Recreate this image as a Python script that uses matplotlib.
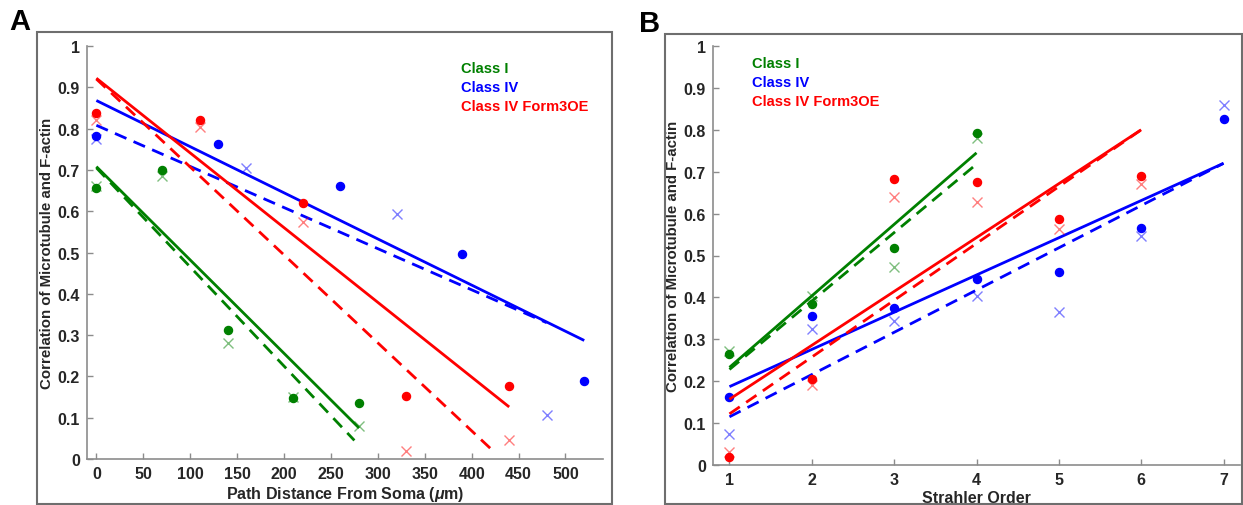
import matplotlib.pyplot as plt
from matplotlib.patches import Rectangle

plt.rcParams['font.family'] = ['Liberation Sans', 'DejaVu Sans']
plt.rcParams['font.weight'] = 'bold'
plt.rcParams['mathtext.fontset'] = 'custom'
plt.rcParams['mathtext.it'] = 'Liberation Sans:italic:bold'
plt.rcParams['mathtext.rm'] = 'Liberation Sans:bold'

GREEN, BLUE, RED = '#008000', '#0000ff', '#ff0000'
names = ['Class I', 'Class IV', 'Class IV Form3OE']
colors = [GREEN, BLUE, RED]

# Panel A: path distance from soma
a_dot_x = [[0, 70, 140, 210, 280],
           [0, 130, 260, 390, 520],
           [0, 110, 220, 330, 440]]
a_dot_y = [[0.655, 0.700, 0.312, 0.147, 0.135],
           [0.782, 0.762, 0.660, 0.497, 0.188],
           [0.838, 0.820, 0.620, 0.153, 0.176]]
a_x_x = [[0, 70, 140, 210, 280],
         [0, 160, 320, 480],
         [0, 110, 220, 330, 440]]
a_x_y = [[0.660, 0.685, 0.280, 0.150, 0.080],
         [0.775, 0.705, 0.593, 0.107],
         [0.820, 0.805, 0.573, 0.020, 0.045]]
# fit lines (start/end)
a_solid_x = [[0, 280], [0, 520], [0, 440]]
a_solid_y = [[0.708, 0.075], [0.868, 0.287], [0.922, 0.126]]
a_dash_x = [[0, 275], [0, 480], [0, 425]]
a_dash_y = [[0.705, 0.045], [0.808, 0.330], [0.920, 0.015]]

# Panel B: Strahler order
b_x = [1, 2, 3, 4, 5, 6, 7]
b_dot_x = [[1, 2, 3, 4], [1, 2, 3, 4, 5, 6, 7], [1, 2, 3, 4, 5, 6]]
b_dot_y = [[0.265, 0.384, 0.517, 0.792],
           [0.162, 0.355, 0.374, 0.445, 0.460, 0.565, 0.825],
           [0.020, 0.205, 0.683, 0.676, 0.587, 0.690]]
b_x_y = [[0.273, 0.403, 0.472, 0.780],
         [0.075, 0.324, 0.343, 0.403, 0.366, 0.546, 0.859],
         [0.030, 0.190, 0.640, 0.627, 0.563, 0.670]]
b_solid_x = [[1, 4], [1, 7], [1, 6]]
b_solid_y = [[0.233, 0.745], [0.187, 0.720], [0.157, 0.800]]
b_dash_x = [[1, 4], [1, 7], [1, 6]]
b_dash_y = [[0.228, 0.718], [0.115, 0.720], [0.122, 0.800]]

fig = plt.figure(figsize=(12.43, 5.06), dpi=100)
W, H = 1243, 506

# panel frames
for x0, y0, x1, y1 in [(37, 33, 612, 505), (665, 35, 1242, 505)]:
    fig.patches.append(Rectangle((x0 / W, 1 - y1 / H), (x1 - x0) / W, (y1 - y0) / H,
                                 transform=fig.transFigure, fill=False,
                                 edgecolor='#6e6e6e', linewidth=1.5))
fig.text(20 / W, 1 - 22 / H, 'A', fontsize=21, fontweight='bold', ha='center', va='center')
fig.text(650 / W, 1 - 24 / H, 'B', fontsize=21, fontweight='bold', ha='center', va='center')

axA = fig.add_axes([87 / W, 1 - 460 / H, (603 - 87) / W, (460 - 47) / H])
axB = fig.add_axes([713 / W, 1 - 466 / H, (1240 - 713) / W, (466 - 47) / H])


def style(ax):
    for s in ['top', 'right']:
        ax.spines[s].set_visible(False)
    for s in ['left', 'bottom']:
        ax.spines[s].set_color('#8c8c8c')
        ax.spines[s].set_linewidth(1.2)
    ax.tick_params(direction='in', length=4, width=1, color='#8c8c8c',
                   labelsize=11.5, labelcolor='#262626', pad=5)
    ax.set_ylim(0, 1)
    ax.set_yticks([0, 0.1, 0.2, 0.3, 0.4, 0.5, 0.6, 0.7, 0.8, 0.9, 1])
    ax.set_yticklabels(['0', '0.1', '0.2', '0.3', '0.4', '0.5', '0.6', '0.7', '0.8', '0.9', '1'])
    ax.set_ylabel('Correlation of Microtubule and F-actin', fontsize=10.8,
                  fontweight='bold', color='#262626', labelpad=3)


lw = 2.0
dash = (4.5, 2.8)

for i, c in enumerate(colors):
    axA.plot(a_solid_x[i], a_solid_y[i], color=c, lw=lw, solid_capstyle='butt')
    axA.plot(a_dash_x[i], a_dash_y[i], color=c, lw=lw, dashes=dash)
    axA.plot(a_x_x[i], a_x_y[i], 'x', color=c, alpha=0.5, ms=7, mew=1.0)
    axA.plot(a_dot_x[i], a_dot_y[i], 'o', color=c, ms=5.8)
    axA.text(389, 0.947 - 0.046 * i, names[i], color=c, fontsize=10.5,
             fontweight='bold', va='center')

style(axA)
axA.set_xlim(-10, 540)
axA.set_xticks([0, 50, 100, 150, 200, 250, 300, 350, 400, 450, 500])
axA.set_xlabel(r'Path Distance From Soma ($\mu$m)', fontsize=11.5,
               fontweight='bold', color='#262626', labelpad=2)

for i, c in enumerate(colors):
    axB.plot(b_solid_x[i], b_solid_y[i], color=c, lw=lw, solid_capstyle='butt')
    axB.plot(b_dash_x[i], b_dash_y[i], color=c, lw=lw, dashes=dash)
    axB.plot(b_dot_x[i], b_x_y[i], 'x', color=c, alpha=0.5, ms=7, mew=1.0)
    axB.plot(b_dot_x[i], b_dot_y[i], 'o', color=c, ms=5.8)
    axB.text(1.27, 0.96 - 0.046 * i, names[i], color=c, fontsize=10.5,
             fontweight='bold', va='center')

style(axB)
axB.set_xlim(0.8, 7.2)
axB.set_xticks(b_x)
axB.set_xlabel('Strahler Order', fontsize=11.5, fontweight='bold',
               color='#262626', labelpad=2)

fig.savefig('out.png', dpi=100)
